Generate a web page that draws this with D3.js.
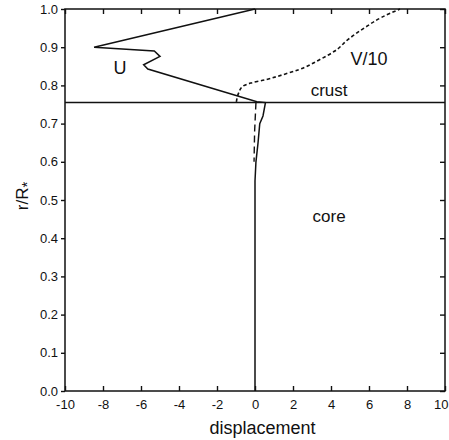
<!DOCTYPE html>
<html>
<head>
<meta charset="utf-8">
<script src="https://cdn.jsdelivr.net/npm/d3@7"></script>
<style>
  html, body { margin: 0; padding: 0; background: #fff; }
  svg { display: block; }
  text { font-family: "Liberation Sans", Arial, sans-serif; fill: #111; }
</style>
</head>
<body>
<svg id="chart" width="449" height="440"></svg>
<script>
// Radial displacement profiles of the oscillation mode: U (radial) and V/10 (horizontal)
const xTicks = [-10, -8, -6, -4, -2, 0, 2, 4, 6, 8, 10];
const yTicks = [0.0, 0.1, 0.2, 0.3, 0.4, 0.5, 0.6, 0.7, 0.8, 0.9, 1.0];
const crustBoundary = 0.755;

// U: displacement, radius
const uDisp = [0.0, -8.47, -5.3, -5.0, -5.86, -5.64, 0.1, 0.55, 0.42, 0.25, 0.16, 0.05, 0.0, 0.0];
const uRad  = [1.0, 0.9, 0.89, 0.876, 0.854, 0.843, 0.757, 0.755, 0.72, 0.7, 0.65, 0.6, 0.55, 0.0];

// V/10 in the crust
const vDisp = [-0.98, -0.87, -0.66, -0.23, 0.56, 1.6, 2.3, 3.35, 4.2, 4.92, 5.8, 6.66, 7.63];
const vRad  = [0.757, 0.779, 0.797, 0.806, 0.815, 0.83, 0.841, 0.866, 0.89, 0.921, 0.952, 0.978, 1.0];

// V/10 in the core
const vCoreDisp = [0.05, -0.02, -0.05];
const vCoreRad  = [0.755, 0.68, 0.6];

const svg = d3.select("#chart");
const x = d3.scaleLinear().domain([-10, 10]).range([65, 445]);
const y = d3.scaleLinear().domain([0, 1]).range([391, 9]);

const ink = "#111";

// frame
const g = svg.append("g");
g.append("rect")
  .attr("x", x(-10)).attr("y", y(1))
  .attr("width", x(10) - x(-10)).attr("height", y(0) - y(1))
  .attr("fill", "none").attr("stroke", ink).attr("stroke-width", 1.5);

// axes (plain hyphen-minus in the labels)
const fmtY = d3.format(".1f");
const axBottom = g.append("g").attr("transform", `translate(0,${y(0)})`)
  .call(d3.axisBottom(x).tickValues(xTicks).tickSizeInner(-5).tickSizeOuter(0).tickPadding(9).tickFormat(d => String(d)));
const axTop = g.append("g").attr("transform", `translate(0,${y(1)})`)
  .call(d3.axisTop(x).tickValues(xTicks).tickSizeInner(-5).tickSizeOuter(0).tickFormat(""));
const axLeft = g.append("g").attr("transform", `translate(${x(-10)},0)`)
  .call(d3.axisLeft(y).tickValues(yTicks).tickSizeInner(4).tickSizeOuter(0).tickPadding(3).tickFormat(fmtY));
const axRight = g.append("g").attr("transform", `translate(${x(10)},0)`)
  .call(d3.axisRight(y).tickValues(yTicks).tickSizeInner(-5).tickSizeOuter(0).tickFormat(""));

[axBottom, axTop, axLeft, axRight].forEach(a => {
  a.select(".domain").remove();
  a.selectAll(".tick line").attr("stroke", ink).attr("stroke-width", 1.4);
  a.selectAll(".tick text").attr("font-size", 13).attr("fill", ink)
    .style("font-family", "'Liberation Sans', Arial, sans-serif");
});
// keep the last bottom label inside the window
axBottom.selectAll(".tick text").filter(d => d === 10).attr("text-anchor", "end").attr("x", 3);

// crust/core boundary
g.append("line")
  .attr("x1", x(-10)).attr("x2", x(10))
  .attr("y1", y(crustBoundary)).attr("y2", y(crustBoundary))
  .attr("stroke", ink).attr("stroke-width", 1.5);

const line = d3.line().x(d => x(d[0])).y(d => y(d[1]));

g.append("path")
  .datum(d3.zip(uDisp, uRad))
  .attr("d", line).attr("fill", "none").attr("stroke", ink).attr("stroke-width", 1.5);

g.append("path")
  .datum(d3.zip(vDisp, vRad))
  .attr("d", d3.line().curve(d3.curveMonotoneY).x(d => x(d[0])).y(d => y(d[1])))
  .attr("fill", "none").attr("stroke", ink).attr("stroke-width", 1.6)
  .attr("stroke-dasharray", "3.5,2.5");

g.append("path")
  .datum(d3.zip(vCoreDisp, vCoreRad))
  .attr("d", line).attr("fill", "none").attr("stroke", ink).attr("stroke-width", 1.4)
  .attr("stroke-dasharray", "7,4");

// labels
const label = (txt, px, py, size) => g.append("text")
  .attr("x", px).attr("y", py).attr("font-size", size).attr("text-anchor", "middle").text(txt);
label("U", x(-7.1), y(0.83), 18);
label("V/10", x(6.0), y(0.853), 18);
label("crust", x(3.9), y(0.772), 17);
label("core", x(3.9), y(0.442), 17);
label("displacement", x(0.4), 434, 18);

const yl = g.append("text")
  .attr("transform", `translate(28,${y(0.5) - 4}) rotate(-90)`)
  .attr("text-anchor", "middle").attr("font-size", 17);
yl.append("tspan").text("r/R");
yl.append("tspan").attr("dy", 4).attr("font-size", 15).text("*");
</script>
</body>
</html>
